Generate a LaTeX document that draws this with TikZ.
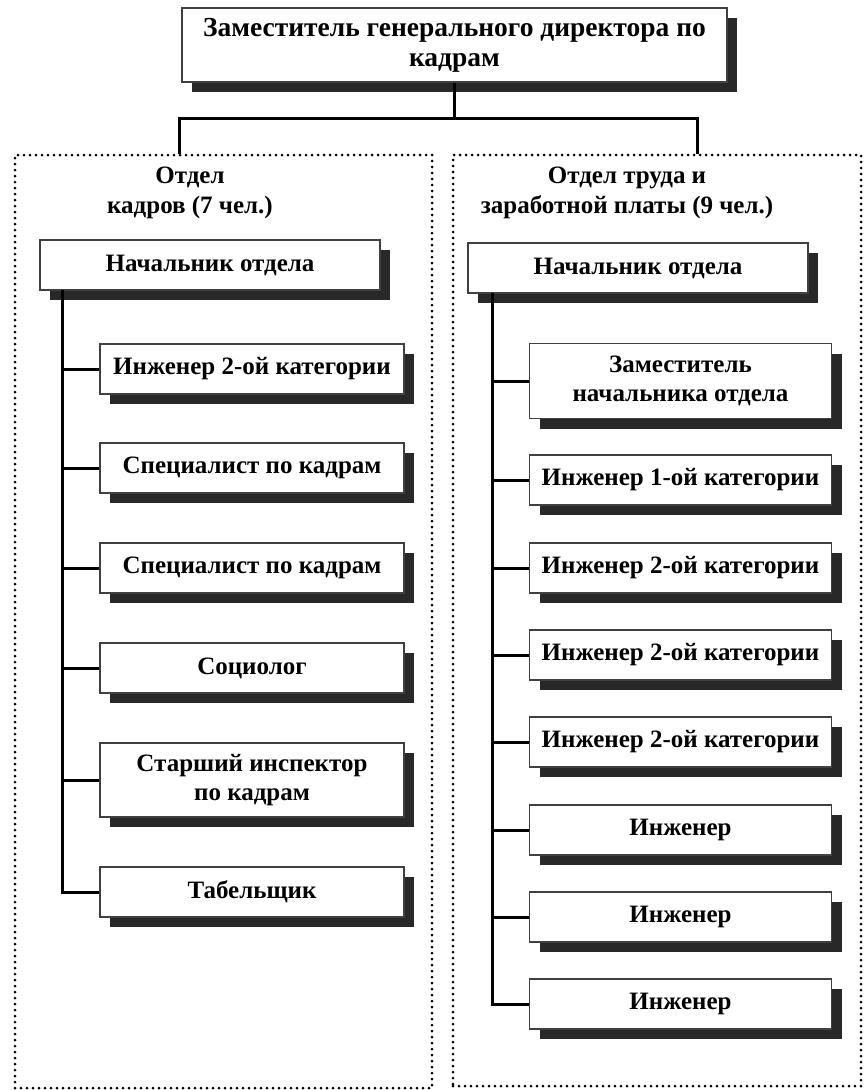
\documentclass[tikz,border=0pt]{standalone}
\usepackage{fontspec}
\setmainfont{Liberation Serif}
\usepackage{tikz}
\usetikzlibrary{shadows}
\definecolor{shadowgray}{RGB}{40,40,40}

\tikzset{
  unit/.style={draw=black!75,line width=1.2pt,fill=white,inner sep=0pt,align=center,
    font=\fontsize{25}{29}\selectfont\bfseries,
    drop shadow={shadow xshift=10pt,shadow yshift=-10pt,fill=shadowgray,opacity=1}},
  secbox/.style={draw,line width=3pt,dash pattern=on 0pt off 6pt,line cap=round,inner sep=0pt},
  sectitle/.style={align=center,font=\fontsize{25}{30}\selectfont\bfseries,inner sep=0pt},
  conn/.style={line width=3pt}
}

\begin{document}
\begin{tikzpicture}[x=1pt,y=-1pt]
    \useasboundingbox (0,0) rectangle (864,1090);
    % Top
    \node[unit,font=\fontsize{27.5}{30}\selectfont\bfseries,minimum width=545pt,minimum height=74pt] (top) at (454.5,45)
      {Заместитель генерального директора по\\кадрам};

    % Sections
    \node[secbox,minimum width=417pt,minimum height=933pt] (lsec) at (223.5,621.5) {};
    \node[secbox,minimum width=408pt,minimum height=931pt] (rsec) at (657,620.5) {};
    \node[sectitle] (ltitle) at (190,193) {Отдел\\ кадров (7 чел.)};
    \node[sectitle] (rtitle) at (627,193) {Отдел труда и\\заработной платы (9 чел.)};

    \coordinate (lj) at (179,118);
    \coordinate (rj) at (697,118);
    \draw[conn] (top.south) -- (top.south |- lj);
    \draw[conn] (lj |- lsec.north) -- (lj) -- (rj) -- (rj |- rsec.north);

    % Left section: Отдел кадров
    \node[unit,minimum width=340pt,minimum height=50pt] (lhead) at (210,265) {Начальник отдела};
    \node[unit,minimum width=304pt,minimum height=50pt] (l1) at (252,369) {Инженер 2-ой категории};
    \node[unit,minimum width=304pt,minimum height=50pt] (l2) at (252,468) {Специалист по кадрам};
    \node[unit,minimum width=304pt,minimum height=50pt] (l3) at (252,568) {Специалист по кадрам};
    \node[unit,minimum width=304pt,minimum height=50pt] (l4) at (252,668) {Социолог};
    \node[unit,minimum width=304pt,minimum height=74pt] (l5) at (252,780) {Старший инспектор\\по кадрам};
    \node[unit,minimum width=304pt,minimum height=50pt] (l6) at (252,892) {Табельщик};

    \coordinate (lbus) at (62,290);
    \draw[conn] (lbus) |- (l6.west);
    \foreach \i in {1,...,5}
      \draw[conn] (lbus |- l\i.west) -- (l\i.west);

    % Right section: Отдел труда и заработной платы
    \node[unit,minimum width=340pt,minimum height=50pt] (rhead) at (638,268) {Начальник отдела};
    \node[unit,minimum width=302pt,minimum height=75pt] (r1) at (680.5,381) {Заместитель\\начальника отдела};
    \node[unit,minimum width=302pt,minimum height=50pt] (r2) at (680.5,480) {Инженер 1-ой категории};
    \node[unit,minimum width=302pt,minimum height=50pt] (r3) at (680.5,568) {Инженер 2-ой категории};
    \node[unit,minimum width=302pt,minimum height=50pt] (r4) at (680.5,655) {Инженер 2-ой категории};
    \node[unit,minimum width=302pt,minimum height=50pt] (r5) at (680.5,742) {Инженер 2-ой категории};
    \node[unit,minimum width=302pt,minimum height=50pt] (r6) at (680.5,830) {Инженер};
    \node[unit,minimum width=302pt,minimum height=50pt] (r7) at (680.5,917) {Инженер};
    \node[unit,minimum width=302pt,minimum height=50pt] (r8) at (680.5,1004) {Инженер};

    \coordinate (rbus) at (492,293);
    \draw[conn] (rbus) |- (r8.west);
    \foreach \i in {1,...,7}
      \draw[conn] (rbus |- r\i.west) -- (r\i.west);
\end{tikzpicture}
\end{document}
